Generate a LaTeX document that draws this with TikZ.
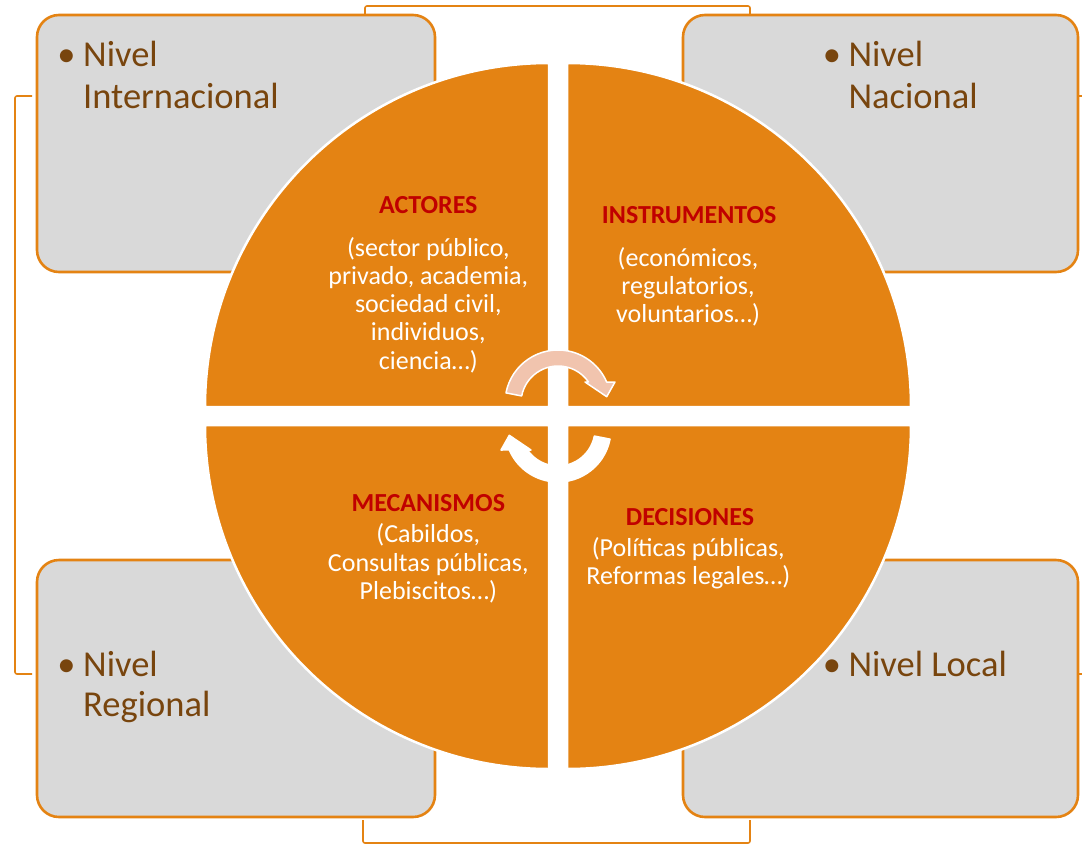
\documentclass[tikz,border=0pt]{standalone}
\usepackage{fontspec}
\setmainfont{Carlito}
\definecolor{naranja}{RGB}{228,131,19}
\definecolor{grisbox}{RGB}{217,217,217}
\definecolor{cafe}{RGB}{120,69,14}
\definecolor{rojo}{RGB}{192,0,0}
\definecolor{rosa}{RGB}{241,196,174}

\begin{document}
\begin{tikzpicture}[x=1pt, y=-1pt,
  brk/.style={draw=naranja, line width=1.6pt, rounded corners=2pt},
  lvlbox/.style={draw=naranja, line width=2.6pt, fill=grisbox, rounded corners=22pt},
  lvltxt/.style={text=cafe, font=\fontsize{36.5}{41}\selectfont, inner sep=0pt},
  quad/.style={fill=naranja, draw=white, line width=2.5pt},
  flecha/.style={draw=white, line width=1.5pt, line join=round},
  qhead/.style={text=rojo, font=\bfseries\fontsize{26}{27}\selectfont, inner sep=0pt, anchor=base},
  qbody/.style={text=white, font=\fontsize{26}{27}\selectfont, inner sep=0pt, anchor=base},
]
  \useasboundingbox (0,0) rectangle (1082,844);
  \clip (0,0) rectangle (1082,844);

  % brackets between the levels
  \draw[brk] (32,96) -- (15,96) -- (15,674) -- (32,674);
  \draw[brk] (365,15) -- (365,6) -- (750,6) -- (750,15);
  \draw[brk] (363,820) -- (363,843) -- (750,843) -- (750,820);
  \draw[brk] (1078,96) -- (1090,96) -- (1090,674) -- (1078,674);

  % level boxes
  \draw[lvlbox] (37,15) rectangle (435,272);
  \draw[lvlbox] (683,15) rectangle (1078,272);
  \draw[lvlbox] (37,560) rectangle (435,817);
  \draw[lvlbox] (683,560) rectangle (1078,817);

  \node[lvltxt, anchor=base] (intb) at (66.5,66.7) {•};
  \node[lvltxt, anchor=base west] (int1) at (83,66.7) {Nivel};
  \node[lvltxt, anchor=base west] (int2) at (83,108.3) {Internacional};
  \node[lvltxt, anchor=base] (nacb) at (832,66.7) {•};
  \node[lvltxt, anchor=base west] (nac1) at (848.3,66.7) {Nivel};
  \node[lvltxt, anchor=base west] (nac2) at (848.3,108.3) {Nacional};
  \node[lvltxt, anchor=base] (regb) at (66.5,676) {•};
  \node[lvltxt, anchor=base west] (reg1) at (83,676) {Nivel};
  \node[lvltxt, anchor=base west] (reg2) at (83,716.7) {Regional};
  \node[lvltxt, anchor=base] (locb) at (832,676) {•};
  \node[lvltxt, anchor=base west] (loc1) at (848.3,676) {Nivel Local};

  % circle quarters
  \draw[quad] (549,407) -- (205,407) arc[start angle=180, end angle=270, radius=344] -- cycle;
  \draw[quad] (567,407) -- (567,63) arc[start angle=270, end angle=360, radius=344] -- cycle;
  \draw[quad] (567,425) -- (911,425) arc[start angle=0, end angle=90, radius=344] -- cycle;
  \draw[quad] (549,425) -- (549,769) arc[start angle=90, end angle=180, radius=344] -- cycle;

  % cycle arrows
  \begin{scope}[shift={(558,403)}]
    \draw[flecha, fill=rosa] (191:53) arc[start angle=191, end angle=336.7, radius=53]
      -- (57,-21) -- (48.7,-6.3) -- (27,-21) -- (325.4:37)
      arc[start angle=325.4, end angle=191, radius=37] -- cycle;
  \end{scope}
  \begin{scope}[shift={(558,429)}]
    \draw[flecha, fill=white] (11:53) arc[start angle=11, end angle=156.7, radius=53]
      -- (-57,21) -- (-48.7,6.3) -- (-27,21) -- (145.4:37)
      arc[start angle=145.4, end angle=11, radius=37] -- cycle;
  \end{scope}

  % texts of the quarters
  \node[qhead] (act) at (428.3,213.3) {ACTORES};
  \foreach \t [count=\i from 0] in {{(sector público,}, {privado, academia,}, {sociedad civil,}, {individuos,}, {ciencia…)}}
    \node[qbody] (act-\i) at (428.3,256+28.3*\i) {\t};

  \node[qhead] (ins) at (689.2,223.3) {INSTRUMENTOS};
  \foreach \t [count=\i from 0] in {{(económicos,}, {regulatorios,}, {voluntarios…)}}
    \node[qbody] (ins-\i) at (688,266+28.3*\i) {\t};

  \node[qhead] (mec) at (428.3,511) {MECANISMOS};
  \foreach \t [count=\i from 0] in {{(Cabildos,}, {Consultas públicas,}, {Plebiscitos…)}}
    \node[qbody] (mec-\i) at (428.3,542.7+28.3*\i) {\t};

  \node[qhead] (dec) at (690,525) {DECISIONES};
  \foreach \t [count=\i from 0] in {{(Políticas públicas,}, {Reformas legales…)}}
    \node[qbody] (dec-\i) at (688.3,556+28.3*\i) {\t};
\end{tikzpicture}
\end{document}
